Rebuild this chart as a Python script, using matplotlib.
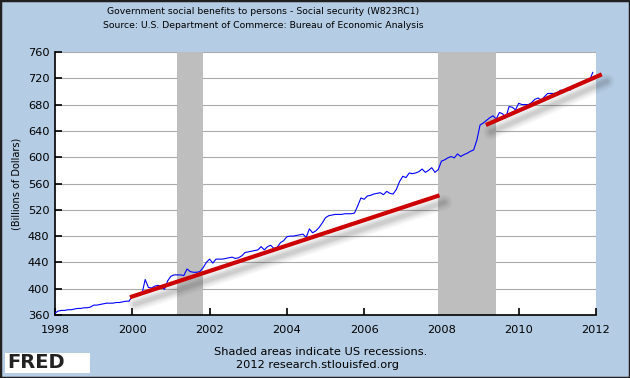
import numpy as np
import matplotlib
matplotlib.use("Agg")
import matplotlib.pyplot as plt
import matplotlib.transforms as mtransforms
from matplotlib.patches import Rectangle

# monthly values, Jan 1998 .. Dec 2011 (billions of dollars)
start_year = 1998
values = [
    363, 366, 367, 367, 368, 368, 369, 370, 370, 371, 371, 372,  # 1998
    375, 375, 376, 377, 378, 378, 378, 379, 379, 380, 381, 381,  # 1999
    389, 390, 391, 392, 414, 402, 401, 404, 405, 403, 399, 412,  # 2000
    419, 421, 421, 421, 420, 430, 426, 425, 425, 426, 432, 440,  # 2001
    445, 439, 445, 445, 445, 446, 447, 448, 446, 447, 450, 455,  # 2002
    456, 457, 458, 459, 464, 459, 464, 466, 461, 463, 470, 473,  # 2003
    479, 480, 480, 481, 482, 483, 478, 491, 485, 488, 493, 500,  # 2004
    508, 511, 512, 513, 513, 513, 514, 514, 514, 515, 526, 538,  # 2005
    536, 541, 542, 544, 545, 546, 543, 548, 545, 544, 551, 563,  # 2006
    571, 569, 576, 575, 576, 578, 582, 577, 580, 584, 577, 581,  # 2007
    594, 596, 599, 601, 599, 605, 601, 604, 606, 609, 611, 626,  # 2008
    649, 652, 656, 660, 663, 658, 668, 666, 660, 677, 676, 672,  # 2009
    682, 680, 680, 680, 683, 688, 690, 687, 692, 697, 697, 697,  # 2010
    698, 702, 701, 705, 702, 708, 710, 712, 714, 715, 717, 729,  # 2011
]

recession_start = [2001.17, 2007.92]
recession_end = [2001.83, 2009.42]

# hand-drawn trend lines (x0, x1), (y0, y1)
trend_x = [[1999.94, 2007.95], [2009.15, 2012.15]]
trend_y = [[387, 542], [649, 726]]

yticks = [360, 400, 440, 480, 520, 560, 600, 640, 680, 720, 760]
xticks = [1998, 2000, 2002, 2004, 2006, 2008, 2010, 2012]

bg = "#b4cce4"
W, H = 630, 378
dates = start_year + np.arange(len(values)) / 12.0

fig = plt.figure(figsize=(W / 100, H / 100), dpi=100, facecolor=bg)
ax = fig.add_axes([55 / W, (H - 315) / H, (596 - 55) / W, (315 - 52) / H])
ax.set_facecolor("white")

for s, e in zip(recession_start, recession_end):
    ax.axvspan(s, e, color="#bebebe", lw=0, zorder=1)

ax.plot(dates, values, color="#0000ff", lw=0.8, zorder=3)

ax.set_xlim(1998, 2012)
ax.set_ylim(360, 760)
ax.set_yticks(yticks)
ax.set_xticks(xticks)
ax.yaxis.grid(True, color="#aaaaaa", lw=0.8, zorder=0)
ax.set_axisbelow(True)
for sp in ["top", "right"]:
    ax.spines[sp].set_visible(False)
ax.spines["left"].set_linewidth(1.2)
ax.spines["bottom"].set_linewidth(1.2)
ax.tick_params(direction="in", length=5, width=1.2, labelsize=8.2)
ax.tick_params(axis="x", pad=7)
ax.tick_params(axis="y", pad=4)
ax.set_ylabel("(Billions of Dollars)", fontsize=7)
ax.yaxis.set_label_coords(-0.061, 0.5)

# trend lines with soft drop shadow
sh = mtransforms.offset_copy(ax.transData, fig=fig, x=5, y=-7, units="dots")
for tx, ty in zip(trend_x, trend_y):
    for w, a in [(11, 0.03), (9, 0.035), (7, 0.045), (5, 0.06), (3, 0.08)]:
        ax.plot(tx, ty, color="#303030", lw=w, alpha=a, solid_capstyle="round",
                transform=sh, clip_on=False, zorder=4)
    ax.plot(tx, ty, color="#cc0000", lw=3.0, solid_capstyle="butt",
            clip_on=False, zorder=5)

fig.text(263 / W, 1 - 11 / H, "Government social benefits to persons - Social security (W823RC1)",
         ha="center", va="center", fontsize=6.7)
fig.text(263 / W, 1 - 25 / H, "Source: U.S. Department of Commerce: Bureau of Economic Analysis",
         ha="center", va="center", fontsize=6.7)
fig.text(321 / W, 1 - 352 / H, "Shaded areas indicate US recessions.",
         ha="center", va="center", fontsize=8.2)
fig.text(317 / W, 1 - 365 / H, "2012 research.stlouisfed.org",
         ha="center", va="center", fontsize=8.2)

# FRED logo
fig.patches.append(Rectangle((5 / W, 1 - 373 / H), 85 / W, 20 / H, transform=fig.transFigure,
                             facecolor="white", edgecolor="none"))
fig.text(7 / W, 1 - 363 / H, "FRED", ha="left", va="center", fontsize=14,
         fontweight="heavy", color="#222222")

# outer border
fig.patches.append(Rectangle((0, 0), 1, 1, transform=fig.transFigure, fill=False,
                             edgecolor="#202020", lw=2.5))

fig.savefig("out.png", dpi=100, facecolor=bg)
